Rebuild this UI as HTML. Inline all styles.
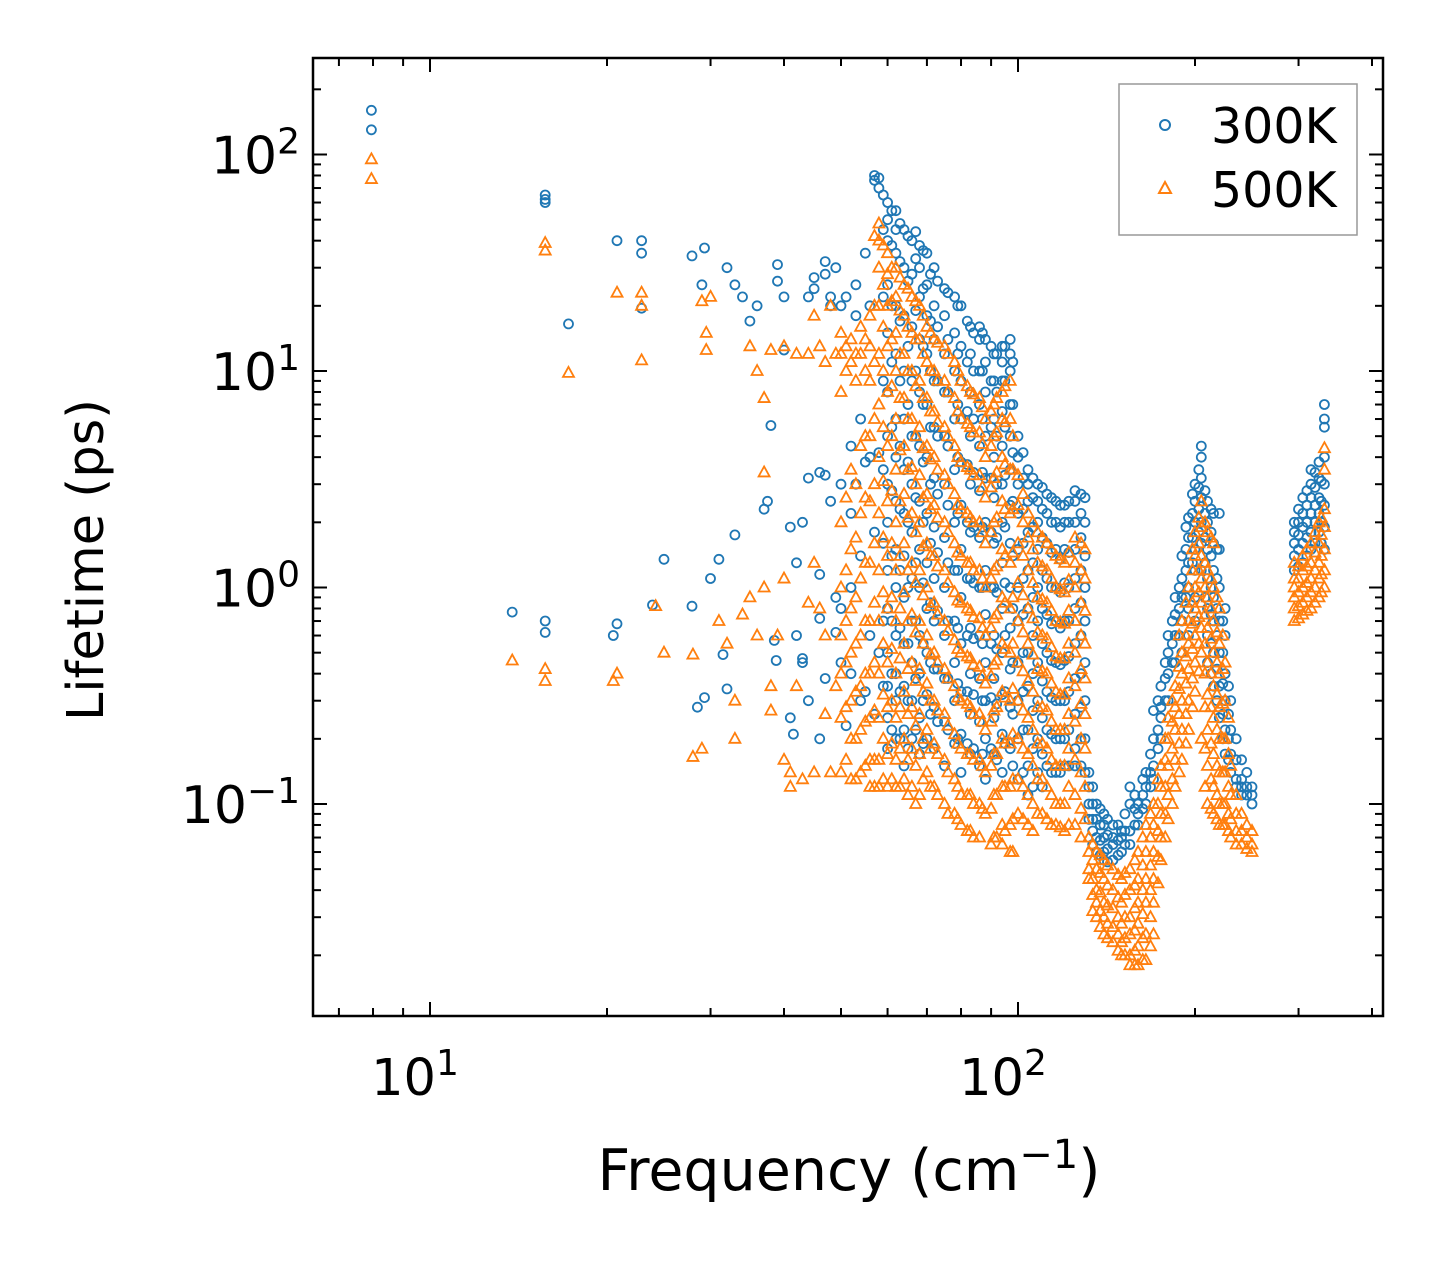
<!DOCTYPE html>
<html><head><meta charset="utf-8">
<style>
html,body{margin:0;padding:0;background:#fff;}
svg{display:block;font-family:"DejaVu Sans","Liberation Sans",sans-serif;}
</style></head>
<body>
<svg id="chart" width="1442" height="1265" viewBox="0 0 1442 1265" xmlns="http://www.w3.org/2000/svg">
<rect width="1442" height="1265" fill="#fff"/>
<g id="marks300"></g>
<g id="marks500"></g>
<g id="axes"></g>
<rect x="313" y="58" width="1070" height="958" fill="none" stroke="#000" stroke-width="2.5"/>
<text x="849" y="1190" font-size="57" text-anchor="middle">Frequency (cm<tspan dy="-22" font-size="40">−1</tspan><tspan dy="22">)</tspan></text>
<text transform="translate(103,560) rotate(-90)" font-size="51" text-anchor="middle">Lifetime (ps)</text>
<g>
<rect x="1119" y="84" width="238" height="151" fill="#fff" stroke="#999" stroke-width="1.5"/>
<circle cx="1165" cy="125" r="5" fill="none" stroke="#1f77b4" stroke-width="2"/>
<text x="1211" y="143" font-size="49">300K</text>
<polygon points="1165,182 1171,193 1159,193" fill="none" stroke="#ff7f0e" stroke-width="2"/>
<text x="1211" y="207" font-size="49">500K</text>
</g>
</svg>
<script>
// ---- data ----
const xTickValues=[10,100];
const xTickExps=["1","2"];
const yTickValues=[0.1,1,10,100];
const yTickExps=["−1","0","1","2"];
// 300K series: [frequency, [lifetimes...]]
const series300=[
[7.95,[160,130]],[13.8,[0.77]],[15.7,[65,62,60,0.7,0.62]],[17.2,[16.5]],
[20.5,[0.6]],[20.8,[40,0.68]],[22.9,[40,35,19.5]],[23.9,[0.83]],[25,[1.35]],
[27.9,[0.82,34]],[28.5,[0.28]],[29.3,[37,0.31]],[29,[25]],[30,[1.1]],[31,[1.35]],[31.5,[0.49]],
[32,[0.34,30]],[33,[1.75,25]],[34,[22]],[35,[17]],[36,[20]],[37,[2.3]],[37.5,[2.5]],[38,[5.6]],
[38.5,[0.57]],[38.8,[0.46]],[39,[31,26]],[40,[22,12.5]],[41,[1.9,0.25]],[41.5,[0.21]],[42,[1.3,0.6]],
[43,[2,0.47,0.45]],[44,[3.2,0.3,22]],[45,[27,24]],[46,[3.4,1.15,0.72,0.2]],[47,[3.3,0.38,32,28]],
[48,[20,22,2.5]],[49,[0.9,0.62,30]],[50,[3,0.45,0.8,20]],[51,[22,0.23]],[52,[4.5,2.2,1.0,0.4]],
[53,[3,18,25]],[54,[6,1.4,0.3]],[55,[35,3.8,0.33]],[56,[4,20,0.6]],[57,[80,76,1.8,0.26]],[58,[78,70,4.2,0.5]],
[59,[65,45,22,9,3.5,1.6,0.7,0.35]],
[60,[60,50,40,25,15,8,5,3,2,1.2,0.8,0.5,0.35,0.25,0.18]],
[61,[55,38,20,11,5.5,2.8,1.4,0.7,0.4,0.22]],
[62,[55,45,35,20,12,6,4,2.5,1.5,1,0.6,0.4,0.3,0.2]],
[63,[48,32,17,9,4.5,2.3,1.2,0.65,0.33,0.2]],
[64,[45,30,18,10,6,3.5,2.2,1.4,0.9,0.55,0.35,0.22,0.15]],
[65,[42,26,13,7,3.8,2,1,0.55,0.3,0.18]],
[66,[40,28,16,9,5,3,1.8,1.1,0.7,0.45,0.3,0.2]],
[67,[44,33,19,10,5,2.6,1.3,0.7,0.38,0.22]],
[68,[38,30,22,14,8,4.5,2.5,1.5,1.0,0.6,0.4,0.25,0.17]],
[69,[36,24,13,7,3.8,2,1.05,0.55,0.3,0.19]],
[70,[35,25,18,12,7,4,2.2,1.3,0.8,0.5,0.32,0.2]],
[71,[28,17,10,5.5,3,1.6,0.85,0.45,0.26]],
[72,[30,20,14,9,5.5,3.2,1.9,1.1,0.7,0.42,0.28,0.18]],
[73,[26,16,9,5,2.7,1.45,0.78,0.42,0.24]],
[75,[24,18,12,8,5,3,1.7,1.0,0.6,0.38,0.24,0.15]],
[76,[23,14,8,4.5,2.4,1.3,0.7,0.38,0.22]],
[78,[22,15,10,6,3.5,2,1.2,0.7,0.45,0.3,0.19]],
[79,[20,12,7,4,2.2,1.2,0.65,0.36,0.2]],
[80,[20,13,9,6,3.8,2.4,1.5,0.9,0.55,0.33,0.21,0.14]],
[82,[17,11,6.5,3.7,2,1.1,0.6,0.33,0.19]],
[83,[16,12,8,5,3,1.8,1.1,0.65,0.4,0.26,0.17]],
[84,[15,10,6,3.4,1.9,1.05,0.58,0.32,0.18]],
[86,[16,14,10,7,4.5,2.8,1.7,1.0,0.6,0.38,0.24,0.15]],
[87,[15,10,6,3.4,1.9,1.0,0.55,0.3,0.17]],
[88,[14,11,8,5,3.2,2,1.2,0.75,0.45,0.3,0.2,0.13]],
[90,[13,9,5.5,3.2,1.8,1.0,0.55,0.31,0.18]],
[91,[12,9,6,4,2.6,1.6,1.0,0.6,0.38,0.25,0.17]],
[92,[12,8,5,3,1.7,0.95,0.52,0.29,0.16]],
[94,[13,11,9,6.5,4.5,3,2,1.3,0.8,0.5,0.32,0.21,0.14]],
[95,[13,9,5.5,3.3,1.9,1.05,0.6,0.33,0.19]],
[97,[14,12,10,7,5,3.5,2.4,1.6,1.0,0.65,0.42,0.28,0.18]],
[98,[11,7,4.2,2.5,1.4,0.8,0.45,0.26,0.15]],
[100,[5,4,3,2.2,1.5,1.0,0.7,0.45,0.3,0.2,0.13]],
[102,[4.2,3.2,2.3,1.6,1.1,0.75,0.5,0.33,0.22,0.14]],
[104,[3.5,3,2.5,1.8,1.2,0.8,0.5,0.35,0.22,0.15,0.11]],
[106,[3.2,2.6,1.9,1.3,0.9,0.6,0.4,0.27,0.18,0.12]],
[108,[3,2.5,2,1.5,1.0,0.7,0.45,0.3,0.2,0.14]],
[110,[2.9,2.3,1.7,1.2,0.8,0.55,0.37,0.25,0.17,0.12]],
[112,[2.7,2.2,1.6,1.1,0.75,0.5,0.33,0.22,0.15]],
[114,[2.6,2.0,1.45,1.0,0.68,0.46,0.31,0.21,0.14]],
[116,[2.5,2.0,1.5,1.0,0.7,0.45,0.3,0.2,0.14]],
[118,[2.4,1.9,1.35,0.95,0.65,0.44,0.3,0.2,0.14]],
[120,[2.4,2.0,1.5,1.05,0.7,0.46,0.3,0.2,0.15]],
[122,[2.5,2.0,1.45,1.0,0.7,0.48,0.33,0.22,0.15]],
[125,[2.8,2.5,2,1.5,1.1,0.8,0.55,0.38,0.26,0.18,0.15]],
[128,[2.7,2.2,1.7,1.2,0.85,0.6,0.4,0.28,0.2,0.15]],
[130,[2.6,2.0,1.4,1.0,0.7,0.45,0.3,0.2,0.14]],
[132,[0.14,0.12,0.1,0.085]],[134,[0.12,0.1,0.085,0.075,0.065]],[136,[0.1,0.085,0.07,0.06]],[138,[0.095,0.08,0.068,0.058]],
[140,[0.09,0.08,0.07,0.06,0.055]],[142,[0.085,0.072,0.062,0.054]],
[145,[0.08,0.07,0.065,0.055]],[148,[0.08,0.068,0.058]],[150,[0.075,0.07,0.06]],[152,[0.09,0.075,0.065]],[155,[0.075,0.065,0.1,0.12]],
[158,[0.11,0.095,0.08]],[160,[0.1,0.09,0.08]],[163,[0.13,0.11,0.095]],[165,[0.12,0.1,0.14]],[168,[0.17,0.14,0.12]],
[170,[0.15,0.2,0.13,0.27]],[173,[0.22,0.18,0.3]],[175,[0.2,0.25,0.35,0.28]],[178,[0.3,0.38,0.45]],
[180,[0.3,0.4,0.5,0.6]],[183,[0.45,0.55,0.7]],[185,[0.45,0.6,0.75,0.9]],[188,[0.6,0.8,1.0]],[190,[0.7,0.9,1.1,1.4,0.5]],
[193,[0.9,1.2,1.5,1.9]],[195,[1.0,1.3,1.7,2.1,0.8,0.6]],[198,[1.3,1.7,2.2,2.7]],[200,[1.5,2,2.5,3,1.2,0.9,0.7]],
[203,[1.8,2.3,2.9,3.5]],[205,[2,2.6,3.2,4,4.5,1.6,1.2]],[208,[1.7,2.2,2.8,1.3,0.9]],
[210,[1.5,2,2.5,1.1,0.8,0.6,0.45]],[213,[1.4,1.8,2.3,1.0,0.75,0.55,0.4]],[215,[1.2,1.6,2.2,0.9,0.7,0.5,0.35]],[218,[1.1,1.5,0.8,0.6,0.42,0.3]],
[220,[1.0,1.5,2.2,0.7,0.5,0.35,0.25]],[223,[0.7,0.5,0.36,0.26,0.2]],
[225,[0.6,0.8,0.4,0.3,0.22,0.17]],[228,[0.35,0.26,0.2,0.16]],[230,[0.3,0.22,0.17,0.14]],[235,[0.2,0.16,0.13,0.12]],[240,[0.16,0.13,0.12,0.11]],[245,[0.14,0.12,0.11]],[250,[0.12,0.11,0.1]],
[295,[1.2,1.4,1.6,1.8,2.0]],[300,[1.25,1.5,1.75,2.0,2.3]],[305,[1.3,1.6,1.9,2.2,2.6]],[310,[1.4,1.7,2.0,2.4,2.8]],[315,[1.5,1.8,2.2,2.6,3,3.5]],
[320,[1.6,2.0,2.4,2.9,3.4]],[325,[1.8,2.2,2.6,3.2,3.8]],[328,[1.6,2.0,2.5,3.1]],[332,[1.5,1.9,2.4,3,4,5.5,7,6]]
];
// 500K series
const series500=[
[7.95,[95,77]],[13.8,[0.46]],[15.7,[39,36,0.42,0.37]],[17.2,[9.8]],[20.5,[0.37]],[20.8,[23,0.4]],
[22.9,[23,20,11.2]],[24.2,[0.82]],[25,[0.5]],[28,[0.49,0.165]],[29,[0.18,21]],[29.5,[15,12.5]],[30,[22]],
[31,[0.7]],[32,[0.55]],[33,[0.3,0.2]],[34,[0.75]],[35,[0.9,13]],[36,[0.6,10]],[37,[1.0,3.4,7.5]],
[38,[0.35,0.27,12.5]],[39,[0.6]],[40,[1.1,0.16,13]],[41,[0.12,0.14]],[42,[0.35,12]],[43,[0.13]],
[44,[0.85,12]],[45,[1.3,0.14,18]],[46,[0.8,13]],[47,[0.6,0.26,11]],[48,[0.14,20]],[49,[0.35,12]],
[50,[15,12,8,2,1,0.6,0.4,0.25,0.14]],
[51,[13,10,2.6,1.2,0.7,0.45,0.28,0.16]],
[52,[14,11,3.5,1.5,0.8,0.5,0.3,0.2,0.13]],
[53,[12,9,3,1.7,0.9,0.55,0.33,0.2,0.13]],
[54,[16,12,4.5,2.2,1.1,0.6,0.35,0.22,0.14]],
[55,[14,10,5,2.6,1.3,0.7,0.4,0.24,0.15]],
[56,[18,13,9,5,2.5,1.3,0.7,0.4,0.25,0.16,0.12]],
[57,[42,20,11,6,3,1.6,0.85,0.45,0.27,0.16,0.12]],
[58,[48,40,30,20,12,7,4,2.2,1.2,0.7,0.4,0.25,0.16,0.12]],
[59,[38,25,16,10,5.5,3.1,1.7,0.95,0.55,0.32,0.2,0.13]],
[60,[35,28,20,13,8,4.5,2.5,1.4,0.8,0.45,0.28,0.17,0.12]],
[61,[30,21,14,8.5,5,2.8,1.6,0.9,0.52,0.3,0.19,0.13]],
[62,[30,22,15,10,6,3.5,2,1.2,0.7,0.4,0.25,0.16,0.12]],
[63,[27,19,12,7.5,4.3,2.5,1.4,0.8,0.47,0.28,0.18,0.12]],
[64,[25,18,12,7.5,4.5,2.7,1.6,0.95,0.55,0.33,0.2,0.13]],
[65,[24,16,10,6,3.5,2.1,1.2,0.7,0.42,0.26,0.16,0.11]],
[66,[22,15,10,6,3.6,2.2,1.3,0.75,0.45,0.28,0.18,0.12]],
[67,[21,14,8.5,5,3,1.8,1.05,0.62,0.37,0.23,0.15,0.1]],
[68,[20,14,9,5.5,3.3,2,1.2,0.7,0.42,0.26,0.17,0.11]],
[69,[18,12,7.5,4.4,2.6,1.55,0.92,0.55,0.33,0.2,0.13]],
[70,[16,11,7.5,4.5,2.7,1.6,1,0.6,0.36,0.22,0.14]],
[71,[15,10,6.5,3.9,2.3,1.4,0.82,0.49,0.3,0.18,0.12]],
[72,[14,10,6.5,4,2.4,1.4,0.85,0.5,0.3,0.19,0.12]],
[73,[13.5,9,5.8,3.5,2.1,1.25,0.75,0.45,0.27,0.17,0.11]],
[75,[13,9,5.5,3.3,2,1.2,0.7,0.42,0.26,0.16,0.1]],
[76,[12,8,5,3,1.8,1.05,0.63,0.38,0.23,0.14,0.09]],
[78,[11,7.5,4.5,2.7,1.6,0.95,0.57,0.35,0.21,0.13,0.09]],
[79,[10,6.5,4,2.4,1.45,0.87,0.52,0.31,0.19,0.12,0.085]],
[80,[9,6,3.8,2.3,1.4,0.85,0.5,0.3,0.18,0.11,0.08]],
[82,[8.5,5.7,3.6,2.2,1.3,0.8,0.48,0.29,0.17,0.11,0.075]],
[83,[8,5.5,3.5,2.1,1.3,0.78,0.47,0.28,0.17,0.11,0.075]],
[84,[7.8,5.2,3.3,2,1.2,0.73,0.44,0.26,0.16,0.1,0.07]],
[86,[7.5,5.2,3.3,2,1.2,0.72,0.43,0.26,0.16,0.1,0.07]],
[87,[6.8,4.6,2.9,1.8,1.1,0.65,0.39,0.24,0.15,0.095]],
[88,[6,4,2.6,1.6,1,0.6,0.36,0.22,0.14,0.09]],
[90,[6.5,4.5,2.9,1.8,1.1,0.65,0.39,0.24,0.15,0.095,0.065]],
[91,[7,5,3.2,2,1.2,0.72,0.44,0.27,0.17,0.11,0.07]],
[92,[7.5,5.2,3.4,2.1,1.25,0.75,0.46,0.28,0.17,0.11,0.07]],
[94,[8,6,4,2.5,1.5,0.9,0.55,0.33,0.2,0.12,0.08,0.065]],
[95,[8.5,5.8,3.7,2.3,1.4,0.85,0.52,0.31,0.19,0.12,0.075]],
[97,[9,6,3.5,2.2,1.3,0.8,0.5,0.3,0.19,0.12,0.08,0.06]],
[98,[5,3.5,2.3,1.45,0.9,0.55,0.34,0.21,0.13,0.085,0.06]],
[100,[3.3,2.4,1.6,1.05,0.7,0.45,0.3,0.2,0.13,0.09]],
[102,[2.7,2.0,1.4,0.92,0.62,0.41,0.27,0.18,0.12,0.085]],
[104,[2.2,1.7,1.2,0.8,0.55,0.37,0.25,0.17,0.11,0.08]],
[106,[2.0,1.5,1.05,0.72,0.49,0.33,0.22,0.15,0.1,0.075]],
[108,[1.8,1.3,0.9,0.62,0.42,0.28,0.19,0.13,0.09]],
[110,[1.7,1.25,0.88,0.6,0.41,0.28,0.19,0.13,0.09]],
[112,[1.6,1.2,0.85,0.58,0.4,0.27,0.18,0.12,0.085]],
[114,[1.5,1.1,0.78,0.53,0.36,0.24,0.16,0.11,0.08]],
[116,[1.4,1.0,0.7,0.48,0.33,0.22,0.15,0.1,0.08]],
[118,[1.35,0.98,0.69,0.47,0.32,0.22,0.15,0.1,0.078]],
[120,[1.3,0.95,0.68,0.47,0.32,0.22,0.15,0.1,0.075]],
[122,[1.45,1.08,0.78,0.55,0.38,0.26,0.18,0.12,0.08]],
[125,[1.7,1.3,1,0.7,0.5,0.35,0.24,0.16,0.11,0.08]],
[128,[1.6,1.2,0.85,0.6,0.42,0.29,0.2,0.14,0.095,0.07]],
[130,[1.5,1.1,0.78,0.55,0.38,0.26,0.18,0.12,0.085]],
[132,[0.07,0.06,0.05,0.045]],[134,[0.065,0.055,0.045,0.038,0.032]],[136,[0.06,0.05,0.04,0.035,0.03]],[138,[0.058,0.048,0.039,0.032,0.027]],
[140,[0.055,0.045,0.035,0.03,0.025]],[142,[0.052,0.042,0.034,0.028,0.024]],
[145,[0.05,0.04,0.033,0.027,0.023]],[148,[0.047,0.037,0.03,0.025,0.021]],[150,[0.045,0.035,0.028,0.023,0.02]],[152,[0.048,0.038,0.03,0.024,0.02]],
[155,[0.05,0.04,0.03,0.025,0.02,0.018]],[158,[0.055,0.042,0.033,0.026,0.021,0.018]],[160,[0.06,0.045,0.035,0.028,0.022,0.018]],
[163,[0.07,0.052,0.04,0.031,0.024,0.019]],[165,[0.08,0.06,0.045,0.035,0.025,0.019]],[168,[0.09,0.07,0.052,0.04,0.03,0.022]],
[170,[0.1,0.08,0.06,0.045,0.035,0.025]],[173,[0.13,0.1,0.075,0.057,0.043]],
[175,[0.15,0.12,0.09,0.07,0.055]],[178,[0.2,0.16,0.12,0.09,0.07]],[180,[0.25,0.2,0.15,0.11,0.085]],[183,[0.3,0.24,0.18,0.13,0.1]],[185,[0.35,0.28,0.22,0.16,0.12]],
[188,[0.43,0.34,0.26,0.19,0.14,0.6]],[190,[0.5,0.4,0.3,0.22,0.16,0.7]],[193,[0.6,0.48,0.36,0.26,0.19,0.85]],[195,[0.7,0.55,0.42,0.3,0.22,1.0]],
[198,[0.85,0.68,0.52,0.38,0.28,1.2,1.5]],[200,[1.0,0.8,0.6,0.45,0.33,1.4,1.8]],[203,[1.2,0.95,0.73,0.55,0.41,1.6,2.1]],
[205,[1.4,1.1,0.85,0.65,0.5,1.9,2.5,0.2]],[208,[1.3,1.0,0.75,0.55,0.4,0.28,0.18,0.12,2.0]],
[210,[1.2,0.9,0.65,0.45,0.32,0.22,0.15,0.1,1.8]],[213,[1.1,0.8,0.58,0.4,0.28,0.19,0.13,0.095,1.7]],
[215,[1.0,0.7,0.5,0.35,0.25,0.17,0.12,0.09,1.6]],[218,[0.9,0.62,0.45,0.32,0.22,0.15,0.11,0.085]],[220,[0.8,0.55,0.4,0.28,0.2,0.14,0.1,0.08]],
[223,[0.6,0.42,0.29,0.2,0.14,0.1,0.08]],[225,[0.45,0.3,0.2,0.14,0.1,0.08]],[228,[0.25,0.17,0.12,0.09,0.075]],[230,[0.15,0.11,0.085,0.07]],
[235,[0.11,0.09,0.075,0.065]],[240,[0.09,0.075,0.065]],[245,[0.08,0.07,0.062]],[250,[0.075,0.065,0.06]],
[295,[0.7,0.8,0.9,1.0,1.1,1.3]],[300,[0.72,0.82,0.95,1.1,1.25]],[305,[0.75,0.85,1.0,1.2,1.4]],[310,[0.78,0.9,1.05,1.25,1.5]],[315,[0.8,0.95,1.1,1.3,1.6]],
[320,[0.85,1.0,1.2,1.45,1.8]],[325,[0.9,1.1,1.3,1.6,2.0]],[328,[0.95,1.15,1.4,1.75,2.1]],[332,[1.0,1.2,1.5,1.9,2.3,3.5,4.4]]
];
// ---- scales ----
const NS="http://www.w3.org/2000/svg";
function xS(f){return 430+588*(Math.log10(f)-1);}
function yS(v){return 371-216.5*(Math.log10(v)-1);}
function mk(tag,attrs,parent){const e=document.createElementNS(NS,tag);for(const k in attrs)e.setAttribute(k,attrs[k]);parent.appendChild(e);return e;}
const g3=document.getElementById('marks300'),g5=document.getElementById('marks500'),ax=document.getElementById('axes');
series300.forEach(([f,vals])=>vals.forEach(v=>{
  const c=mk('circle',{cx:xS(f).toFixed(1),cy:yS(v).toFixed(1),r:4.5,fill:'none',stroke:'#1f77b4','stroke-width':1.8},g3);
  
  
}));
series500.forEach(([f,vals])=>vals.forEach(v=>{
  const x=xS(f),y=yS(v);
  const p=mk('polygon',{points:`${x},${y-6} ${x+5.5},${y+4} ${x-5.5},${y+4}`,fill:'none',stroke:'#ff7f0e','stroke-width':1.8},g5);
  
  
}));
// ticks
const L=313,R=1383,T=58,B=1016;
function tickX(f,len){const x=xS(f);if(x<L||x>R)return;
  mk('line',{x1:x,y1:B,x2:x,y2:B-len,stroke:'#000','stroke-width':2},ax);
  mk('line',{x1:x,y1:T,x2:x,y2:T+len,stroke:'#000','stroke-width':2},ax);}
function tickY(v,len){const y=yS(v);if(y<T||y>B)return;
  mk('line',{x1:L,y1:y,x2:L+len,y2:y,stroke:'#000','stroke-width':2},ax);
  mk('line',{x1:R,y1:y,x2:R-len,y2:y,stroke:'#000','stroke-width':2},ax);}
[1,10,100].forEach(d=>{for(let m=2;m<=9;m++)tickX(d*m,8);});
[0.01,0.1,1,10,100].forEach(d=>{for(let m=2;m<=9;m++)tickY(d*m,8);});
xTickValues.forEach((v,i)=>{tickX(v,14);
  const t=mk('text',{x:xS(v)-15,y:1095,'font-size':51,'text-anchor':'middle'},ax);
  
  
  t.innerHTML=`10<tspan dy="-20" font-size="36">${xTickExps[i]}</tspan>`;});
yTickValues.forEach((v,i)=>{tickY(v,14);
  const t=mk('text',{x:300,y:yS(v)+19,'font-size':52,'text-anchor':'end'},ax);
  
  
  t.innerHTML=`10<tspan dy="-20" font-size="36">${yTickExps[i]}</tspan>`;});
</script>
</body></html>
